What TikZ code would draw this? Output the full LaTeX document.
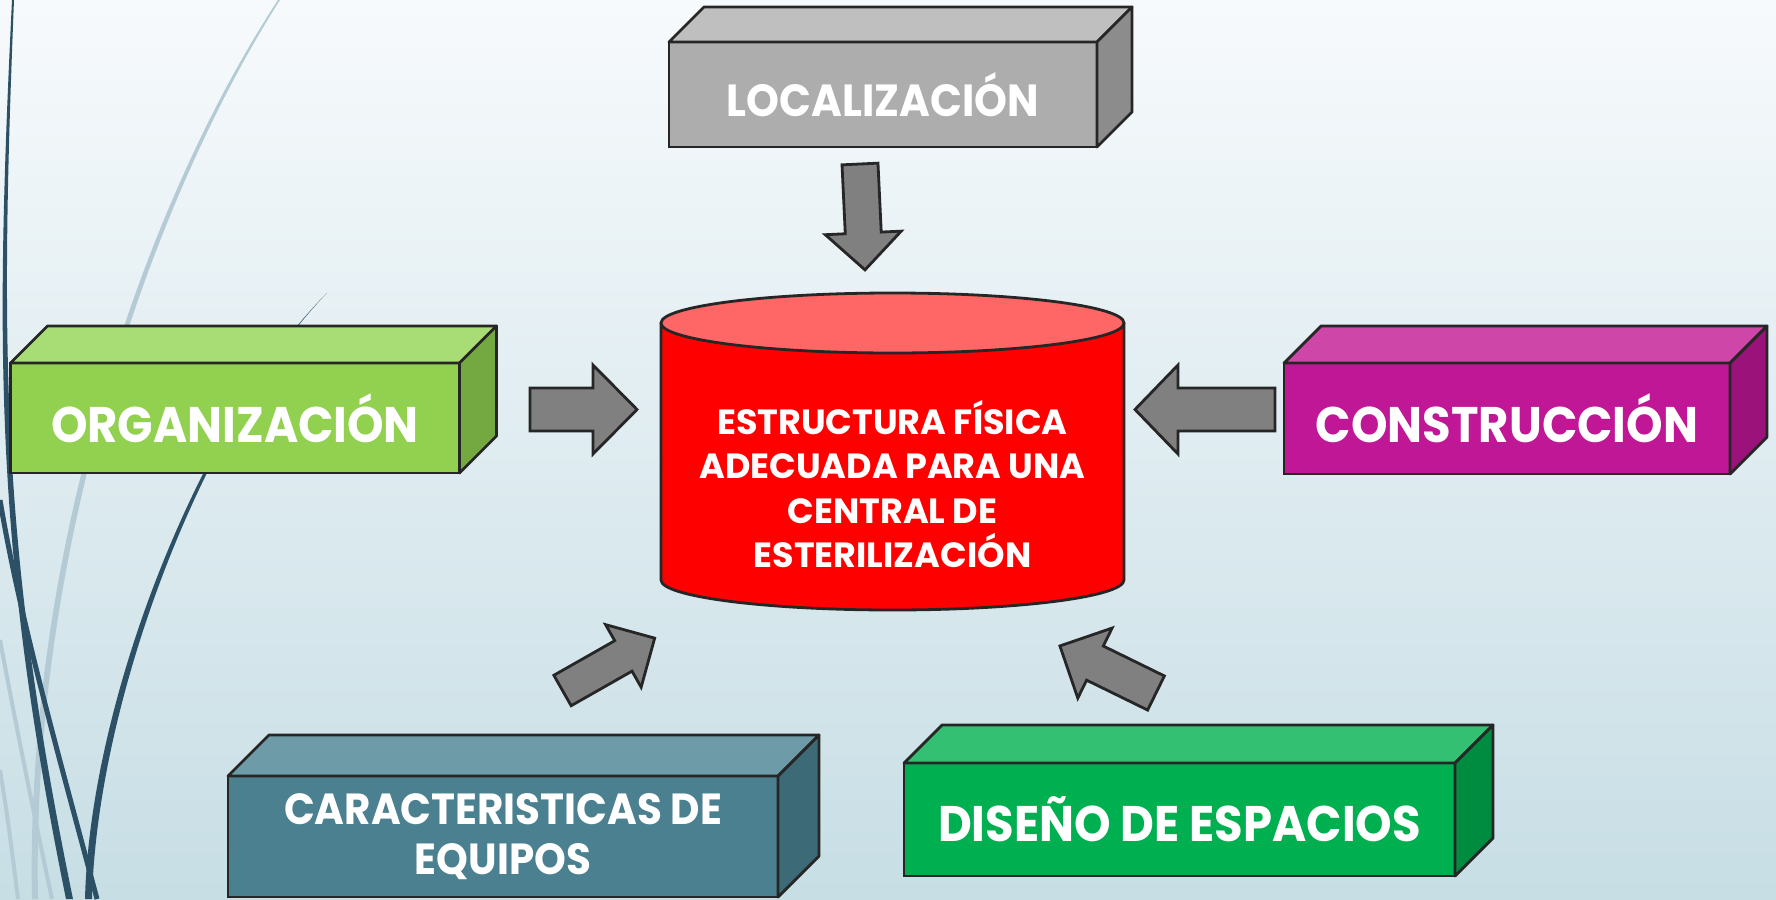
\documentclass[tikz,border=0pt]{standalone}
\usepackage{fontspec}
\setmainfont{Poppins}
\newfontfamily\rotulo{Poppins}[FakeStretch=0.93]
\usetikzlibrary{calc}

\definecolor{fondoarriba}{RGB}{247,250,252}
\definecolor{fondoabajo}{RGB}{199,222,229}
\definecolor{borde}{RGB}{38,38,38}
\definecolor{curvaoscura}{RGB}{44,80,102}
\definecolor{curvaclara}{RGB}{180,203,213}
\definecolor{flechagris}{RGB}{128,128,128}
\definecolor{grisfrente}{RGB}{173,173,173}
\definecolor{grisarriba}{RGB}{191,191,191}
\definecolor{grislado}{RGB}{140,140,140}
\definecolor{verdefrente}{RGB}{146,208,80}
\definecolor{verdearriba}{RGB}{168,220,116}
\definecolor{verdelado}{RGB}{116,168,64}
\definecolor{moradofrente}{RGB}{191,23,150}
\definecolor{moradoarriba}{RGB}{205,70,168}
\definecolor{moradolado}{RGB}{154,18,122}
\definecolor{azulfrente}{RGB}{74,128,143}
\definecolor{azularriba}{RGB}{109,155,167}
\definecolor{azullado}{RGB}{61,106,119}
\definecolor{esmeraldafrente}{RGB}{0,176,80}
\definecolor{esmeraldaarriba}{RGB}{51,192,115}
\definecolor{esmeraldalado}{RGB}{0,140,64}
\definecolor{rojotapa}{RGB}{255,102,102}

\tikzset{
  caja/.style={draw=borde, line width=2.8pt, rectangle, outer sep=0pt, inner sep=0pt,
    text=white, align=center},
  cara/.style={draw=borde, line width=2.8pt, line join=round},
  flecha/.style={draw=borde, line width=2.8pt, fill=flechagris, line join=miter},
  pics/bloque/.style n args={4}{code={
    \path[flecha] (0,-#2) -- ({#1-#4},-#2) -- ({#1-#4},-#3) -- (#1,0)
      -- ({#1-#4},#3) -- ({#1-#4},#2) -- (0,#2) -- cycle;
  }}
}

% top and right faces of a box: node, depth, top colour, side colour
\newcommand{\caras}[4]{
  \path[cara, fill=#3] (#1.north west) -- ++(#2,-#2) -- ($(#1.north east)+(#2,-#2)$)
    -- (#1.north east) -- cycle;
  \path[cara, fill=#4] (#1.north east) -- ++(#2,-#2) -- ($(#1.south east)+(#2,-#2)$)
    -- (#1.south east) -- cycle;
}

\begin{document}
\begin{tikzpicture}[x=1pt, y=-1pt]
  % fondo
  \shade[top color=fondoarriba, bottom color=fondoabajo] (0,0) rectangle (1776,899);
  \useasboundingbox (0,0) rectangle (1776,899);

  % curvas decorativas
  \fill[curvaclara] (278,0) .. controls (140,210) and (25,560) .. (32,899)
    -- (38,899) .. controls (31,560) and (145,212) .. (280,0) -- cycle;
  \draw[curvaclara, line width=4pt] (0,640) .. controls (15,720) and (35,820) .. (52,899);
  \draw[curvaclara, line width=4pt] (0,770) .. controls (8,820) .. (18,899);
  \fill[curvaoscura] (327,293) .. controls (200,420) and (90,700) .. (85,899)
    -- (92,899) .. controls (97,700) and (203,421) .. (327,293) -- cycle;
  \fill[curvaoscura] (12,0) .. controls (-5,350) and (-5,550) .. (66,899)
    -- (73,899) .. controls (1,550) and (0,350) .. (14,0) -- cycle;
  \draw[curvaoscura, line width=5pt] (0,500) .. controls (20,620) and (60,760) .. (97,899);

  % cajas
  \node[caja, fill=grisfrente, minimum width=428pt, minimum height=105pt,
    font=\rotulo\bfseries\fontsize{45}{52}\selectfont] (loc) at (883,94.5) {LOCALIZACIÓN};
  \caras{loc}{35}{grisarriba}{grislado}
  \node[caja, fill=verdefrente, minimum width=449pt, minimum height=110pt,
    font=\rotulo\bfseries\fontsize{50}{58}\selectfont] (org) at (235,418) {ORGANIZACIÓN};
  \caras{org}{37}{verdearriba}{verdelado}
  \node[caja, fill=moradofrente, minimum width=446pt, minimum height=111pt,
    font=\rotulo\bfseries\fontsize{50}{58}\selectfont] (cons) at (1507,418.5) {CONSTRUCCIÓN};
  \caras{cons}{37}{moradoarriba}{moradolado}
  \node[caja, fill=azulfrente, minimum width=550pt, minimum height=121pt,
    font=\rotulo\bfseries\fontsize{43.5}{50}\selectfont] (equip) at (503,836.5) {CARACTERISTICAS DE\\EQUIPOS};
  \caras{equip}{41}{azularriba}{azullado}
  \node[caja, fill=esmeraldafrente, minimum width=551pt, minimum height=113pt,
    font=\rotulo\bfseries\fontsize{50}{58}\selectfont] (dis) at (1179.5,819.5) {DISEÑO DE ESPACIOS};
  \caras{dis}{38}{esmeraldaarriba}{esmeraldalado}

  % cilindro central
  \path[cara, fill=red] (661,323) -- (661,580)
    arc[start angle=180, end angle=0, x radius=231.5, y radius=30] -- (1124,323) -- cycle;
  \path[cara, fill=rojotapa] (892.5,323) ellipse[x radius=231.5, y radius=30];
  \node[text=white, align=center, font=\bfseries\fontsize{35}{44.5}\selectfont] (centro)
    at (892.5,484) {ESTRUCTURA FÍSICA\\ADECUADA PARA UNA\\CENTRAL DE\\ESTERILIZACIÓN};

  % flechas
  \coordinate (f1) at (860,164);
  \coordinate (f2) at (530,409.5);
  \coordinate (f3) at (1275,409.5);
  \coordinate (f4) at (562.5,690.5);
  \coordinate (f5) at (1156,693);
  \pic[rotate=-87.3] at (f1) {bloque={106}{18}{38}{37}};
  \pic at (f2) {bloque={107}{21.5}{44.5}{44}};
  \pic[rotate=180] at (f3) {bloque={140}{21.5}{44.5}{43}};
  \pic[rotate=29.6] at (f4) {bloque={106}{17.5}{36}{36}};
  \pic[rotate=153.9] at (f5) {bloque={107}{19}{39}{39}};
\end{tikzpicture}
\end{document}
